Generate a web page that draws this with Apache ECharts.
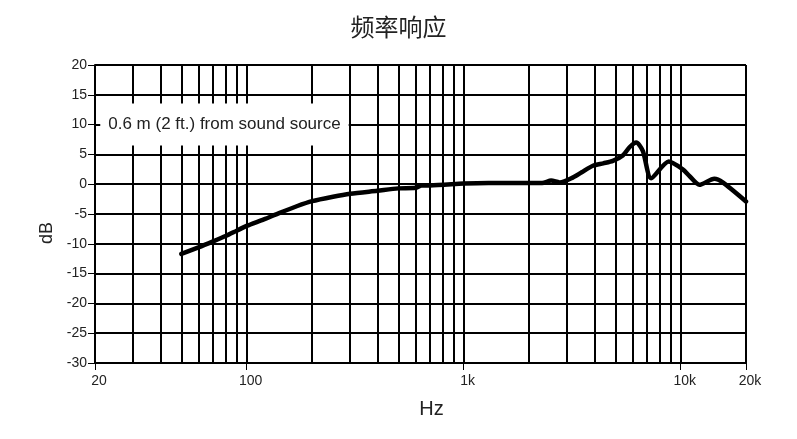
<!DOCTYPE html>
<html>
<head>
<meta charset="utf-8">
<script src="https://cdn.jsdelivr.net/npm/echarts@6/dist/echarts.min.js"></script>
<style>
html,body{margin:0;padding:0;background:#fff;}
#chart{width:797px;height:439px;}
</style>
</head>
<body>
<div id="chart"></div>
<script>
// ---- data ----
var titleText = '频率响应';
var freqs = [50, 60, 70, 80, 90, 100, 120, 142, 170, 200, 250, 300, 400, 500, 600, 640, 700, 1000, 1300, 2000, 2300, 2530, 2770, 3180, 3500, 3940, 4400, 4870, 5410, 5810, 6240, 6690, 7310, 8810, 10220, 10960, 12190, 14290, 15620, 20000];
var dbs   = [-11.7, -10.6, -9.6, -8.7, -7.8, -7.0, -5.9, -4.8, -3.7, -2.85, -2.1, -1.6, -1.1, -0.7, -0.6, -0.2, -0.2, 0.1, 0.2, 0.2, 0.2, 0.6, 0.3, 1.1, 2.0, 3.1, 3.5, 3.9, 4.8, 6.2, 7.0, 5.6, 1.0, 3.8, 2.5, 1.4, -0.1, 0.9, 0.3, -2.9];
var gridFreqs = [30, 40, 50, 60, 70, 80, 90, 100, 200, 300, 400, 500, 600, 700, 800, 900, 1000, 2000, 3000, 4000, 5000, 6000, 7000, 8000, 9000, 10000, 20000];
var annotX = [79];
var annotY = [10];
var annotText = '0.6 m (2 ft.) from sound source';
var xName = 'Hz';
var yName = 'dB';
var yMin = -30, yMax = 20, yStep = 5;
var xMin = 20, xMax = 20000;

// ---- chart ----
var chart = echarts.init(document.getElementById('chart'));
var lineData = freqs.map(function (f, i) { return [f, dbs[i]]; });
var font = 'Liberation Sans, Arial, sans-serif';

var option = {
  backgroundColor: '#fff',
  animation: false,
  title: {
    text: titleText,
    left: 'center',
    top: 10,
    textStyle: { fontFamily: 'Noto Sans CJK SC', fontSize: 24, fontWeight: 'normal', color: '#222' }
  },
  grid: { left: 95, right: 51, top: 65, bottom: 76, containLabel: false },
  xAxis: {
    type: 'log',
    logBase: 10,
    min: xMin,
    max: xMax,
    name: xName,
    nameLocation: 'middle',
    nameGap: 36,
    nameTextStyle: { fontFamily: font, fontSize: 20, color: '#222', padding: [0, 0, 0, 22] },
    axisLine: { show: true, onZero: false, lineStyle: { color: '#000', width: 2 } },
    axisTick: { show: true, length: 7, lineStyle: { color: '#000', width: 1 } },
    axisLabel: {
      fontFamily: font, fontSize: 14, color: '#222', margin: 11,
      padding: [0, 0, 0, 8],
      showMinLabel: true, showMaxLabel: true,
      formatter: function (v) {
        v = Math.round(v);
        return v >= 1000 ? (v / 1000) + 'k' : String(v);
      }
    },
    splitLine: { show: false }
  },
  yAxis: {
    type: 'value',
    min: yMin,
    max: yMax,
    interval: yStep,
    name: yName,
    nameLocation: 'middle',
    nameGap: 34,
    nameRotate: 90,
    nameTextStyle: { fontFamily: font, fontSize: 18, color: '#222', padding: [0, 38, 0, 0] },
    axisLine: { show: true, lineStyle: { color: '#000', width: 2 } },
    axisTick: { show: true, length: 7, lineStyle: { color: '#000', width: 1 } },
    axisLabel: { fontFamily: font, fontSize: 14, color: '#222', margin: 8 },
    splitLine: { show: true, lineStyle: { color: '#000', width: 2 } }
  },
  series: [
    {
      type: 'line',
      data: [],
      z: 1,
      silent: true,
      markLine: {
        z: 1,
        silent: true,
        symbol: ['none', 'none'],
        animation: false,
        label: { show: false },
        lineStyle: { color: '#000', width: 2, type: 'solid' },
        data: gridFreqs.map(function (f) { return { xAxis: f }; })
      }
    },
    {
      type: 'line',
      data: lineData,
      z: 3,
      smooth: 0.25,
      showSymbol: false,
      symbol: 'none',
      lineStyle: { color: '#000', width: 4.5, cap: 'round', join: 'round' }
    }
  ]
};
chart.setOption(option);

// annotation box positioned through the chart's own scales
var pos = chart.convertToPixel({ gridIndex: 0 }, [annotX[0], annotY[0]]);
chart.setOption({
  graphic: [{
    type: 'text',
    z: 100,
    silent: true,
    x: pos[0],
    y: pos[1],
    style: {
      text: annotText,
      fontFamily: font,
      fontSize: 17,
      lineHeight: 18,
      fill: '#222',
      align: 'center',
      verticalAlign: 'middle',
      backgroundColor: '#fff',
      padding: [12, 8]
    }
  }]
});
</script>
</body>
</html>
